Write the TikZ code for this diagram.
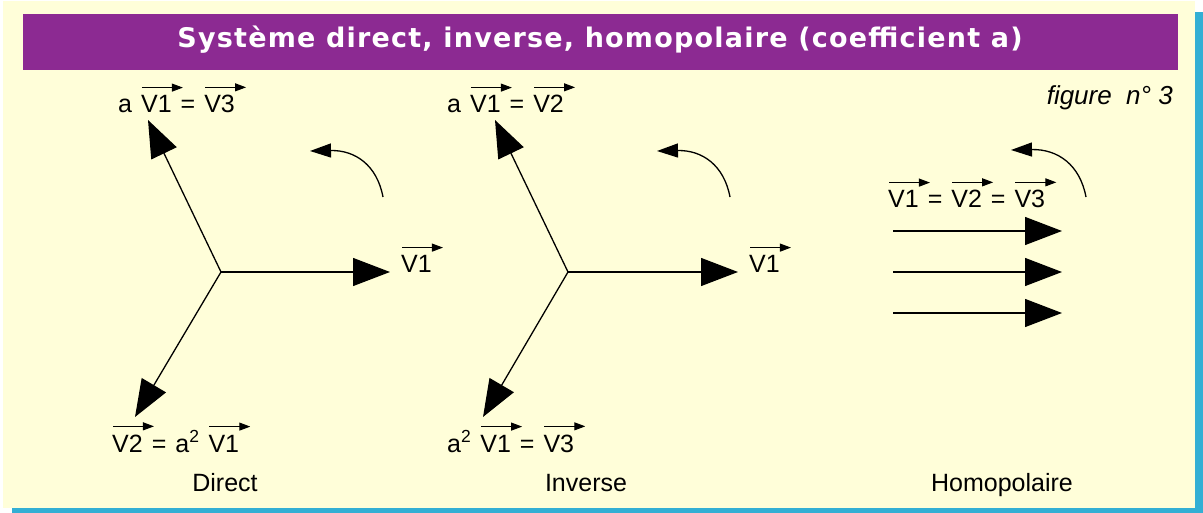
\documentclass[tikz,border=0pt]{standalone}
\usepackage{fontspec}
\setmainfont{Liberation Sans}
\newfontfamily\titlefont[LetterSpace=4.5]{DejaVu Sans}
\usetikzlibrary{positioning,arrows.meta}
\definecolor{bgYel}{RGB}{255,254,217}
\definecolor{barPur}{RGB}{140,42,146}
\definecolor{edgeBlu}{RGB}{51,175,212}
\newcommand{\gap}{\hspace{9pt}}
\newcommand{\vect}[1]{\tikz[baseline=(v.base)]{%
  \node[inner sep=0pt,anchor=base] (v) {#1};
  \draw[overlay,line width=1pt,-{Triangle[length=11pt,width=8pt]}]
    ([yshift=8pt,xshift=1pt]v.north west)
    -- ([yshift=8pt,xshift=11pt]v.north east);}}
\begin{document}
\begin{tikzpicture}[x=1pt,y=-1pt,
  lbl/.style={font=\fontsize{25}{28}\selectfont,
    inner sep=0pt, anchor=base west},
  capt/.style={font=\fontsize{25}{28}\selectfont, inner sep=0pt,
    anchor=base},
  phasor/.style={line width=1.3pt,-{Triangle[length=37pt,width=28pt]}},
  turn/.style={line width=1.3pt,-{Triangle[length=21pt,width=14pt]}}
]

\fill[white] (0,0) rectangle (1203,513);
\fill[edgeBlu] (12,12) rectangle (1203,513);
\fill[bgYel] (3,1) rectangle (1195,508);
\fill[barPur] (23,14) rectangle (1178,70);

\node[font=\titlefont\bfseries\fontsize{27}{30}\selectfont, text=white,
  inner sep=0pt, anchor=base] (title) at (600,48)
  {Système direct, inverse, homopolaire (coefficient a)};
\node[font=\itshape\fontsize{26}{30}\selectfont, inner sep=0pt,
  anchor=base east] (fig) at (1173,105) {figure~~n°~3};

% direct
\coordinate (oD) at (221,272);
\coordinate (dV1) at (390,272);
\coordinate (dV3) at (148,120);
\coordinate (dV2) at (135,417);
\draw[phasor] (oD) -- (dV1);
\draw[phasor] (oD) -- (dV3);
\draw[phasor] (oD) -- (dV2);
\coordinate (rDa) at (383,197);
\coordinate (rDb) at (310,151);
\draw[turn] (rDa) .. controls (377,165) and (355,150) .. (rDb);

\node[lbl] (dTop) at (118,113) {a\gap\vect{V1}\gap=\gap\vect{V3}};
\node[lbl] (dRight) at (401,273) {\vect{V1}};
\node[lbl] (dBot) at (112,452)
  {\vect{V2}\gap=\gap a\textsuperscript{2}\gap\vect{V1}};
\node[capt] (dCap) at (225,491) {Direct};

% inverse
\coordinate (oI) at (568,272);
\coordinate (iV1) at (738,272);
\coordinate (iV2) at (495,120);
\coordinate (iV3) at (483,417);
\draw[phasor] (oI) -- (iV1);
\draw[phasor] (oI) -- (iV2);
\draw[phasor] (oI) -- (iV3);
\coordinate (rIa) at (730,197);
\coordinate (rIb) at (657,151);
\draw[turn] (rIa) .. controls (724,165) and (702,150) .. (rIb);

\node[lbl] (iTop) at (447,113) {a\gap\vect{V1}\gap=\gap\vect{V2}};
\node[lbl] (iRight) at (749,273) {\vect{V1}};
\node[lbl] (iBot) at (447,452)
  {a\textsuperscript{2}\gap\vect{V1}\gap=\gap\vect{V3}};
\node[capt] (iCap) at (586,491) {Inverse};

% homopolaire
\foreach \k/\y in {1/231,2/272,3/313}{
  \coordinate (hA\k) at (893,\y);
  \coordinate (hB\k) at (1062,\y);
  \draw[phasor] (hA\k) -- (hB\k);
}
\coordinate (rHa) at (1086,197);
\coordinate (rHb) at (1011,150);
\draw[turn] (rHa) .. controls (1080,165) and (1058,149) .. (rHb);

\node[lbl] (hTop) at (888,208)
  {\vect{V1}\gap=\gap\vect{V2}\gap=\gap\vect{V3}};
\node[capt] (hCap) at (1002,491) {Homopolaire};

\end{tikzpicture}
\end{document}
